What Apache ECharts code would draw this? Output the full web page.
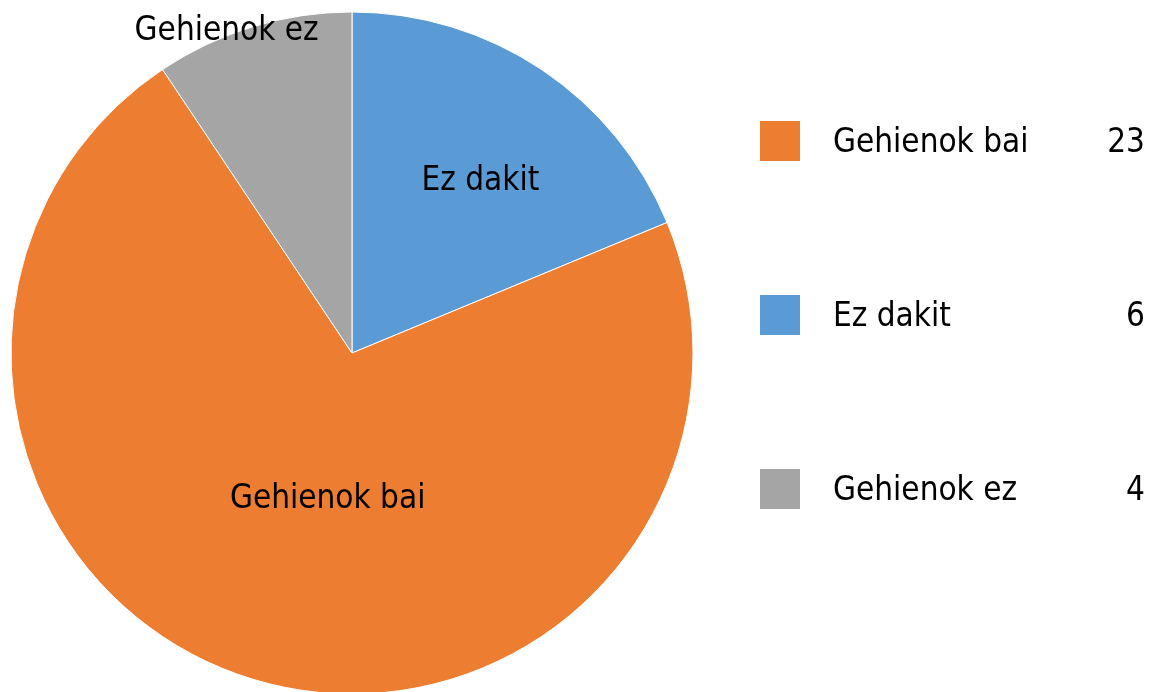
<!DOCTYPE html>
<html>
<head>
<meta charset="utf-8">
<script src="https://cdn.jsdelivr.net/npm/echarts@6/dist/echarts.min.js"></script>
<style>
    html, body { margin: 0; padding: 0; background: #fff; }
    #chart { width: 1152px; height: 692px; }
</style>
</head>
<body>
<div id="chart"></div>
<script>
    // clockwise from 12 o'clock, as the slices are drawn
    var sliceNames = ['Ez dakit', 'Gehienok bai', 'Gehienok ez'];
    var sliceValues = [6, 23, 3];
    var sliceColors = ['#5B9BD5', '#ED7D31', '#A5A5A5'];

    // legend table on the right (its own order and counts)
    var legendNames = ['Gehienok bai', 'Ez dakit', 'Gehienok ez'];
    var legendCounts = [23, 6, 4];

    var fontFamily = '"Liberation Sans Narrow", "DejaVu Sans Condensed", sans-serif';

    // nudge labels from the default mid-radius spot
    var labelShift = [
        { dx: 32, dy: -27 },
        { dx: 26, dy: -20 },
        { dx: -75, dy: -156 }
    ];

    var chart = echarts.init(document.getElementById('chart'));

    var pieData = sliceNames.map(function (name, i) {
        return { name: name, value: sliceValues[i], itemStyle: { color: sliceColors[i] } };
    });

    var option = {
        animation: false,
        legend: {
            data: legendNames,
            orient: 'vertical',
            left: 758,
            top: 119,
            padding: 0,
            icon: 'rect',
            itemWidth: 42,
            itemHeight: 42,
            itemGap: 130,
            selectedMode: false,
            formatter: function (name) {
                var i = legendNames.indexOf(name);
                return '{n|' + name + '}{v|' + legendCounts[i] + '}';
            },
            textStyle: {
                color: '#000',
                fontFamily: fontFamily,
                fontSize: 33,
                rich: {
                    n: { width: 248, padding: [4, 0, 0, 27], fontSize: 33, fontFamily: fontFamily, color: '#000' },
                    v: { width: 64, align: 'right', padding: [4, 0, 0, 0], fontSize: 33, fontFamily: fontFamily, color: '#000' }
                }
            }
        },
        series: [
            {
                type: 'pie',
                center: [352, 353],
                radius: 341,
                startAngle: 90,
                clockwise: true,
                data: pieData,
                itemStyle: { borderColor: '#fff', borderWidth: 1 },
                label: {
                    show: true,
                    position: 'inside',
                    formatter: '{b}',
                    color: '#000',
                    fontFamily: fontFamily,
                    fontSize: 33
                },
                labelLine: { show: false },
                labelLayout: function (params) {
                    return labelShift[params.dataIndex];
                },
                emphasis: { disabled: true }
            }
        ]
    };

    option && chart.setOption(option);
</script>
</body>
</html>
